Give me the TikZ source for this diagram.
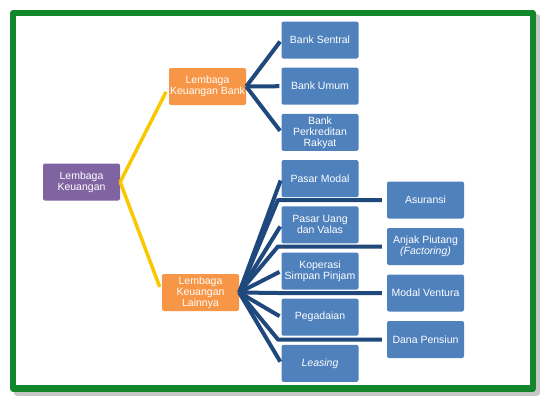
\documentclass[tikz,border=0pt]{standalone}
\usepackage{fontspec}
\setmainfont{Liberation Sans}
\usepackage{tikz}
\definecolor{node_blue}{RGB}{79,129,189}
\definecolor{edge_blue}{RGB}{31,73,125}
\definecolor{node_orange}{RGB}{247,150,70}
\definecolor{node_purple}{RGB}{128,100,162}
\definecolor{edge_yell}{RGB}{250,200,0}
\definecolor{frame_green}{RGB}{18,134,42}

\begin{document}
\begin{tikzpicture}[x=1pt,y=-1pt,line join=round]
    \tikzstyle{unit}=[draw=none,rounded corners=2pt,minimum width=77pt,minimum height=37pt,inner sep=0pt,align=center,text=white,font=\fontsize{10.5}{11}\selectfont]
    \tikzstyle{unitbl}=[style=unit,fill=node_blue]
    \tikzstyle{unitor}=[style=unit,fill=node_orange]
    \tikzstyle{unitpu}=[style=unit,fill=node_purple]
    \tikzstyle{linkbl}=[draw=edge_blue,line width=4pt]
    \tikzstyle{linkye}=[draw=edge_yell,line width=3.5pt]

    \useasboundingbox (0,0) rectangle (547,402);
    % frame and its shadow
    \draw[black!22,line width=6pt] (17,17) rectangle (537,392.5);
    \draw[frame_green,line width=6.5pt,fill=white] (13.2,13.2) rectangle (532.8,388.5);

    \node[unitpu] (root) at (81.5,182  ) {Lembaga\\Keuangan};
    \node[unitor] (bank) at (207.5,86.5) {Lembaga\\Keuangan Bank};
    \node[unitor] (lain) at (200.5,292.5) {Lembaga\\Keuangan\\Lainnya};

    \node[unitbl] (bs)  at (320,40   ) {Bank Sentral};
    \node[unitbl] (bu)  at (320,86.2 ) {Bank Umum};
    \node[unitbl] (bpr) at (320,132.4) {Bank\\Perkreditan\\Rakyat};
    \node[unitbl] (pm)  at (320,178.6) {Pasar Modal};
    \node[unitbl] (pu)  at (320,224.8) {Pasar Uang\\dan Valas};
    \node[unitbl] (ksp) at (320,271  ) {Koperasi\\Simpan Pinjam};
    \node[unitbl] (peg) at (320,317.2) {Pegadaian};
    \node[unitbl] (lea) at (320,363.4) {\textit{Leasing}};

    \node[unitbl] (asr) at (425.5,200  ) {Asuransi};
    \node[unitbl] (anj) at (425.5,246.5) {Anjak Piutang\\\textit{(Factoring)}};
    \node[unitbl] (mv)  at (425.5,293  ) {Modal Ventura};
    \node[unitbl] (dp)  at (425.5,339.5) {Dana Pensiun};

    % bends of the long connectors
    \coordinate (kasr) at (278,200  );
    \coordinate (kanj) at (278,246.5);
    \coordinate (kmv)  at (278,293  );
    \coordinate (kdp)  at (278,339.5);

    \path[linkye,shorten >=6pt]
     (root.east) edge (bank.west)
     (root.east) edge (lain.west);

    \path[linkbl,shorten >=2pt]
     (bank.east) edge (bs.west)
     (bank.east) edge (bu.west)
     (bank.east) edge (bpr.west)
     (lain.east) edge (pm.west)
     (lain.east) edge (pu.west)
     (lain.east) edge (ksp.west)
     (lain.east) edge (peg.west)
     (lain.east) edge (lea.west);

    \draw[linkbl,shorten >=5pt] (lain.east) -- (kasr) -- (asr.west);
    \draw[linkbl,shorten >=5pt] (lain.east) -- (kanj) -- (anj.west);
    \draw[linkbl,shorten >=5pt] (lain.east) -- (kmv)  -- (mv.west);
    \draw[linkbl,shorten >=5pt] (lain.east) -- (kdp)  -- (dp.west);
\end{tikzpicture}
\end{document}
